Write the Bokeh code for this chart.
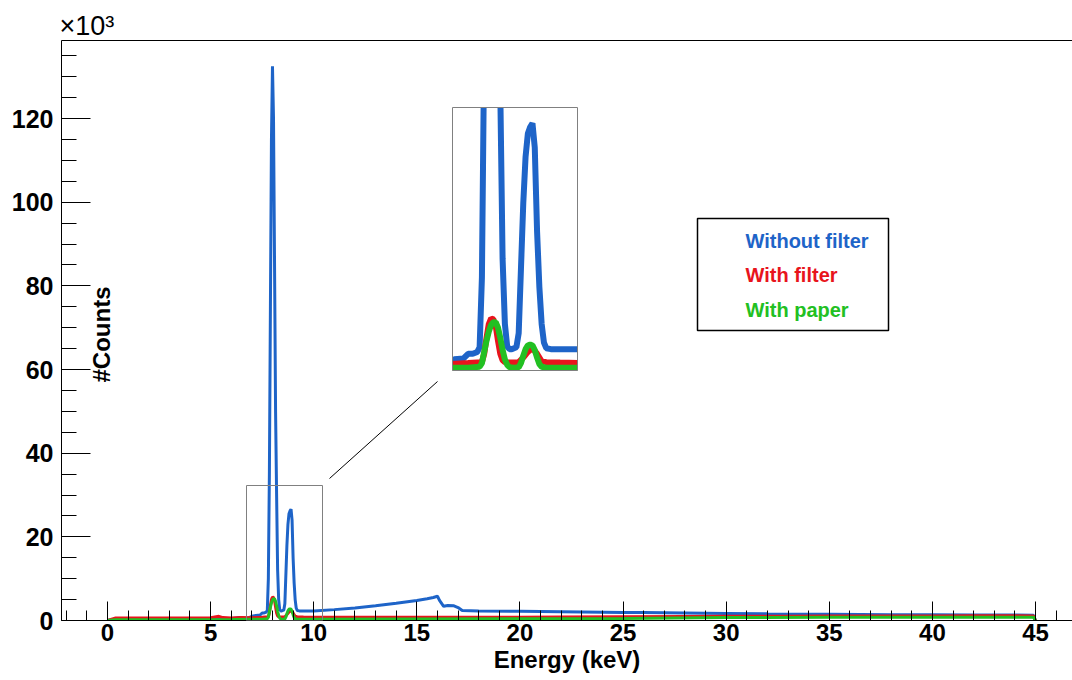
import math
import numpy as np
from bokeh.plotting import figure
from bokeh.models import (Range1d, LinearAxis, SingleIntervalTicker, FixedTicker,
                          CustomJSTickFormatter, BoxAnnotation, Label)
from bokeh.embed import file_html
from bokeh.resources import INLINE

# ---------------- data ----------------
energy_without = [0.0, 0.4, 1.0, 2.0, 3.0, 4.0, 5.0, 5.5, 6.0, 6.4, 6.8, 7.0, 7.2, 7.4, 7.5, 7.6,
                  7.7, 7.75, 7.8, 7.85, 7.9, 7.95, 8.0, 8.05, 8.1, 8.15, 8.2, 8.25, 8.3, 8.35,
                  8.4, 8.45, 8.5, 8.55, 8.6, 8.65, 8.7, 8.75, 8.8, 8.85, 8.9, 8.95, 9.0, 9.05,
                  9.1, 9.15, 9.2, 9.3, 9.5, 10.0, 11.0, 12.0, 13.0, 14.0, 15.0, 15.5, 15.8,
                  16.0, 16.1, 16.3, 16.5, 16.8, 17.0, 17.2, 18.0, 20.0, 22.0, 24.0, 25.0, 26.0,
                  28.0, 30.0, 32.0, 35.0, 38.0, 40.0, 42.0, 44.0, 44.9, 45.0]
counts_without = [0, 300, 300, 300, 300, 300, 350, 400, 400, 700, 500, 1000, 1200, 1300, 1800, 1800,
                  2000, 2500, 10000, 35000, 75000, 115000, 132500, 120000, 85000, 50000, 30000, 12000, 5000, 2600,
                  2300, 2300, 2400, 2500, 4000, 11000, 18000, 23000, 25500, 26200, 26600, 24000, 15000, 9000,
                  5000, 3000, 2400, 2300, 2300, 2300, 2600, 3000, 3500, 4100, 4800, 5200, 5500,
                  5800, 4800, 3400, 3600, 3500, 3100, 2400, 2300, 2200, 2100, 2000, 1900, 1900,
                  1800, 1700, 1600, 1500, 1400, 1350, 1300, 1300, 1250, 0]

energy_filter = [0.0, 0.4, 1.0, 2.0, 3.0, 4.0, 5.0, 5.4, 5.6, 6.0, 6.5, 7.0, 7.5, 7.8, 7.85, 7.9,
                 7.95, 8.0, 8.05, 8.1, 8.15, 8.2, 8.25, 8.3, 8.4, 8.6, 8.7, 8.8, 8.9, 9.0, 9.1,
                 9.2, 9.5, 10.0, 12.0, 15.0, 18.0, 20.0, 22.0, 25.0, 28.0, 30.0, 33.0, 35.0, 38.0,
                 40.0, 42.0, 44.0, 44.9, 45.0]
counts_filter = [0, 600, 600, 600, 600, 600, 650, 1000, 700, 600, 700, 650, 800, 900, 1800, 3500,
                 5000, 5600, 5500, 4800, 3200, 1800, 1100, 900, 850, 900, 1400, 2000, 2400, 1800, 1000,
                 900, 850, 800, 750, 750, 800, 800, 850, 900, 950, 1000, 1000, 1050, 1100,
                 1100, 1150, 1150, 1100, 0]

energy_paper = [0.0, 0.4, 2.0, 4.0, 6.0, 7.0, 7.5, 7.75, 7.8, 7.85, 7.9, 7.95, 8.0, 8.05, 8.1,
                8.15, 8.2, 8.25, 8.3, 8.35, 8.4, 8.5, 8.6, 8.65, 8.7, 8.75, 8.8, 8.85, 8.9, 8.95,
                9.0, 9.05, 9.1, 9.2, 9.5, 10.0, 15.0, 20.0, 25.0, 30.0, 35.0, 40.0, 44.9, 45.0]
counts_paper = [0, 200, 200, 200, 250, 300, 300, 400, 800, 2000, 3200, 4200, 4900, 5200, 5200,
                4600, 3500, 2200, 1200, 600, 350, 300, 350, 800, 1600, 2300, 2700, 2800, 2700, 2200,
                1400, 700, 400, 300, 300, 300, 350, 400, 500, 700, 800, 800, 800, 0]

series_labels = ["Without filter", "With filter", "With paper"]
series_colors = ["#1e64c8", "#e8141c", "#22c022"]
x_tick_step = 5          # keV
y_tick_step = 20000      # counts
x_title = "Energy (keV)"
y_title = "#Counts"
y_multiplier = "\u00d710\u00b3"

# ---------------- geometry (pixels) ----------------
FL, FR, FT, FB = 61, 1072, 40, 620          # frame
X0_PX, X45_PX = 107, 1035                   # pixel of 0 keV and 45 keV
Y0_PX, Y120_PX = 620, 118                   # pixel of 0 and 120000 counts
SX = (X45_PX - X0_PX) / 45.0
SY = (Y0_PX - Y120_PX) / 120000.0

def kx(px):
    return (px - X0_PX) / SX

def cy(py):
    return (Y0_PX - py) / SY

FONT = "Liberation Sans"

p = figure(frame_width=FR - FL, frame_height=FB - FT,
           x_range=Range1d(kx(FL), kx(FR)), y_range=Range1d(cy(FB), cy(FT)),
           output_backend="svg", toolbar_location=None,
           min_border_left=FL, min_border_right=0, min_border_top=FT, min_border_bottom=10,
           background_fill_color="white", border_fill_color="white")
p.outline_line_color = None
p.xgrid.visible = False
p.ygrid.visible = False

# multiplier shown as a left-aligned title above the frame
p.title.text = y_multiplier
p.title.align = "left"
p.title.offset = -2
p.title.standoff = 0
p.title.text_font = FONT
p.title.text_font_style = "normal"
p.title.text_font_size = "27px"
p.title.text_color = "black"

# x axis
xa = p.xaxis[0]
xa.ticker = SingleIntervalTicker(interval=x_tick_step, num_minor_ticks=5)
xa.major_tick_in = 19
xa.major_tick_out = 0
xa.minor_tick_in = 10
xa.minor_tick_out = 0
xa.major_tick_line_color = "black"
xa.minor_tick_line_color = "black"
xa.axis_line_color = "black"
xa.major_label_text_font = FONT
xa.major_label_text_font_style = "bold"
xa.major_label_text_font_size = "24px"
xa.major_label_text_color = "black"
xa.major_label_standoff = 3
xa.axis_label = x_title
xa.axis_label_text_font = FONT
xa.axis_label_text_font_style = "bold"
xa.axis_label_text_font_size = "24px"
xa.axis_label_text_color = "black"
xa.axis_label_standoff = 2

# y axis
ya = p.yaxis[0]
ya.ticker = SingleIntervalTicker(interval=y_tick_step, num_minor_ticks=4)
ya.formatter = CustomJSTickFormatter(code="return (tick/1000).toFixed(0);")
ya.major_tick_in = 29
ya.major_tick_out = 0
ya.minor_tick_in = 15
ya.minor_tick_out = 0
ya.major_tick_line_color = "black"
ya.minor_tick_line_color = "black"
ya.axis_line_color = "black"
ya.major_label_text_font = FONT
ya.major_label_text_font_style = "bold"
ya.major_label_text_font_size = "25px"
ya.major_label_text_color = "black"
ya.major_label_standoff = 8

# top frame line
top_axis = LinearAxis(ticker=FixedTicker(ticks=[]), axis_line_color="black",
                      major_tick_line_color=None, minor_tick_line_color=None,
                      major_label_text_font_size="0px", major_label_standoff=0,
                      major_tick_out=0, minor_tick_out=0)
p.add_layout(top_axis, "above")

# ---------------- main spectra ----------------
series = [(energy_without, counts_without), (energy_filter, counts_filter), (energy_paper, counts_paper)]
for (ex, cnt), col in zip(series, series_colors):
    p.line(ex, cnt, line_color=col, line_width=3)

# ---------------- zoom box in main plot ----------------
p.add_layout(BoxAnnotation(left=kx(246), right=kx(322), bottom=0, top=cy(485),
                           fill_alpha=0, line_color="#808080", line_alpha=1.0, line_width=1))
p.segment(x0=[kx(329)], y0=[cy(478)], x1=[kx(437)], y1=[cy(381)], line_color="black", line_width=1)

# ---------------- inset ----------------
IL, IR, IT, IB = 452, 577, 107, 370
ix0, ix1, iy0, iy1 = 7.16, 9.88, 0.0, 28300.0
isx = (IR - IL) / (ix1 - ix0)
isy = (IB - IT) / (iy1 - iy0)
p.extra_x_ranges = {"inset_x": Range1d(ix0 - (IL - FL) / isx, ix1 + (FR - IR) / isx)}
p.extra_y_ranges = {"inset_y": Range1d(iy0 - (FB - IB) / isy, iy1 + (IT - FT) / isy)}

def clip_window(x, y, x0, x1, ytop):
    x = np.asarray(x, float)
    y = np.asarray(y, float)
    xs = [x0] + [v for v in x if x0 < v < x1] + [x1]
    ys = list(np.interp(xs, x, y))
    ox, oy = [], []
    for i in range(len(xs)):
        if i > 0:
            xa_, ya_, xb_, yb_ = xs[i - 1], ys[i - 1], xs[i], ys[i]
            if (ya_ > ytop) != (yb_ > ytop):
                t = (ytop - ya_) / (yb_ - ya_)
                ox.append(xa_ + t * (xb_ - xa_))
                oy.append(ytop)
        if ys[i] > ytop:
            if oy and not math.isnan(oy[-1]):
                ox.append(float("nan"))
                oy.append(float("nan"))
        else:
            ox.append(xs[i])
            oy.append(ys[i])
    return ox, oy

for (ex, cnt), col in zip(series, series_colors):
    cx, cyv = clip_window(ex, cnt, ix0, ix1, iy1)
    p.line(cx, cyv, line_color=col, line_width=6, x_range_name="inset_x", y_range_name="inset_y")

p.add_layout(BoxAnnotation(left=ix0, right=ix1, bottom=iy0, top=iy1,
                           x_range_name="inset_x", y_range_name="inset_y",
                           fill_alpha=0, line_color="#808080", line_alpha=1.0, line_width=1))

# ---------------- legend (text only, as in the original) ----------------
p.add_layout(BoxAnnotation(left=kx(697), right=kx(888), bottom=cy(330), top=cy(218),
                           fill_alpha=0, line_color="black", line_alpha=1.0, line_width=1.5))
for lab, col, py in zip(series_labels, series_colors, [240, 274, 309]):
    p.add_layout(Label(x=kx(745), y=cy(py), text=lab, text_color=col, text_font=FONT,
                       text_font_style="bold", text_font_size="20px", text_baseline="middle",
                       text_align="left"))

# ---------------- y title ----------------
p.add_layout(Label(x=kx(101), y=cy(334), text=y_title, angle=math.pi / 2, text_font=FONT,
                   text_font_style="bold", text_font_size="24px", text_align="center",
                   text_baseline="middle", text_color="black"))

open("out.html", "w").write(file_html(p, INLINE))
